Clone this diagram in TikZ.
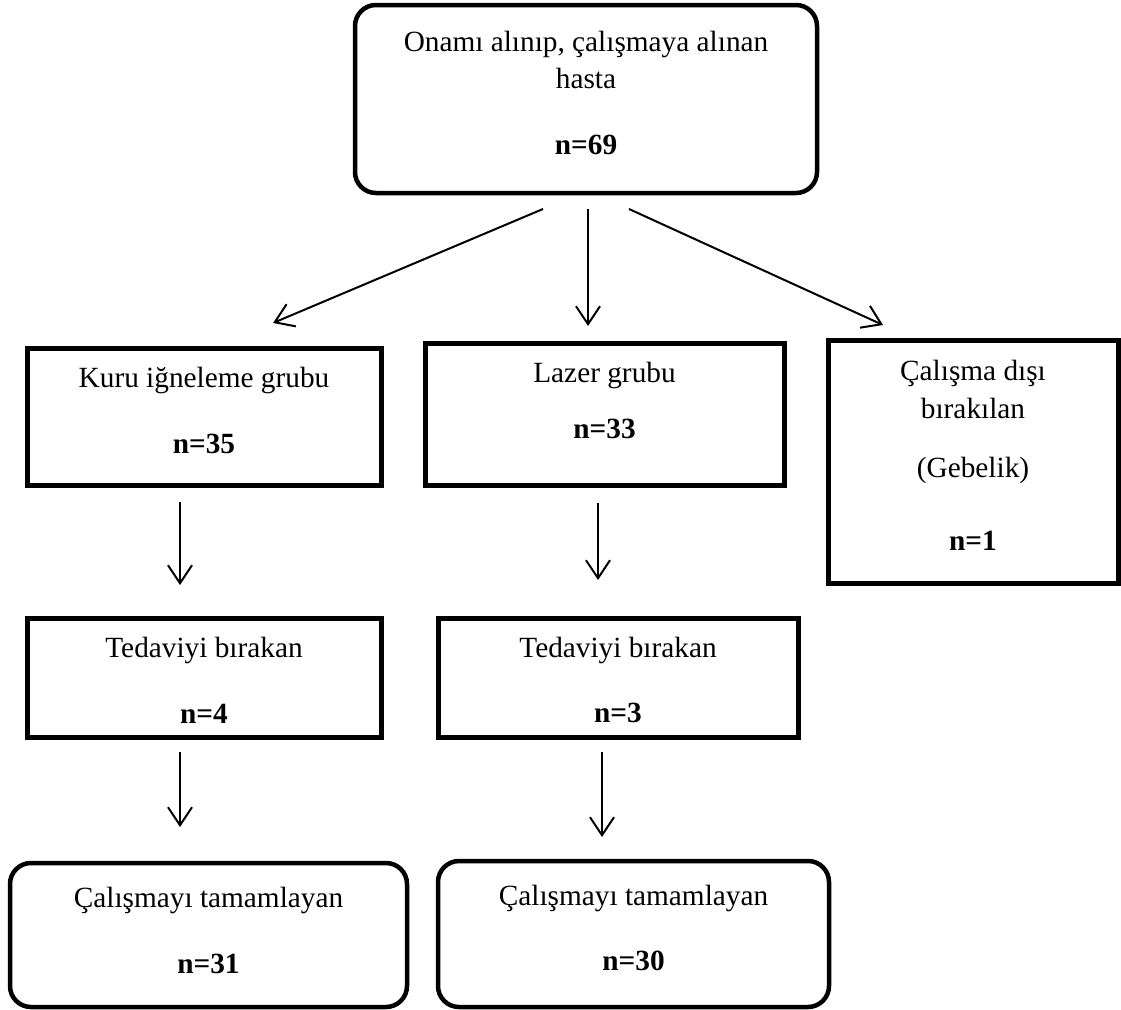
\documentclass[tikz,border=0pt]{standalone}
\usepackage{fontspec}
\setmainfont{Liberation Serif}
\usetikzlibrary{arrows.meta}
\begin{document}
\begin{tikzpicture}[x=1pt,y=-1pt,
  sqbox/.style={draw,line width=5pt,inner sep=0pt},
  rbox/.style={draw,line width=4.5pt,rounded corners=21pt,inner sep=0pt},
  txt/.style={anchor=base,inner sep=0pt,font=\fontsize{29.3}{35}\selectfont},
  arr/.style={line width=2pt,-{Straight Barb[length=18pt,width=24pt]}}]
\useasboundingbox (0,0) rectangle (1121,1009);

% boxes
\node[rbox,minimum width=462pt,minimum height=188pt] (top) at (586,99) {};
\node[sqbox,minimum width=354pt,minimum height=137pt] (kuru) at (204,416.5) {};
\node[sqbox,minimum width=359pt,minimum height=142pt] (lazer) at (604.5,414) {};
\node[sqbox,minimum width=290pt,minimum height=243pt] (disi) at (973,461.5) {};
\node[sqbox,minimum width=354pt,minimum height=119pt] (ted1) at (204,677.5) {};
\node[sqbox,minimum width=360pt,minimum height=119pt] (ted2) at (618,677.5) {};
\node[rbox,minimum width=397pt,minimum height=144pt] (tam1) at (208.5,935) {};
\node[rbox,minimum width=391pt,minimum height=146pt] (tam2) at (633.5,934) {};

% texts
\node[txt] (t1a) at (586,51) {Onamı alınıp, çalışmaya alınan};
\node[txt] (t1b) at (586,88) {hasta};
\node[txt] (t1c) at (586,154) {\textbf{n=69}};
\node[txt] (k1) at (204,387) {Kuru iğneleme grubu};
\node[txt] (k2) at (204,453) {\textbf{n=35}};
\node[txt] (l1) at (604.5,382) {Lazer grubu};
\node[txt] (l2) at (604.5,438) {\textbf{n=33}};
\node[txt] (d1) at (973,380) {Çalışma dışı};
\node[txt] (d2) at (973,418) {bırakılan};
\node[txt] (d3) at (973,477) {(Gebelik)};
\node[txt] (d4) at (973,550) {\textbf{n=1}};
\node[txt] (e1) at (204,657) {Tedaviyi bırakan};
\node[txt] (e2) at (204,723) {\textbf{n=4}};
\node[txt] (f1) at (618,657) {Tedaviyi bırakan};
\node[txt] (f2) at (618,722) {\textbf{n=3}};
\node[txt] (g1) at (208.5,907) {Çalışmayı tamamlayan};
\node[txt] (g2) at (208.5,973) {\textbf{n=31}};
\node[txt] (h1) at (633.5,905) {Çalışmayı tamamlayan};
\node[txt] (h2) at (633.5,970) {\textbf{n=30}};

% arrow end points
\coordinate (a1s) at (543,209); \coordinate (a1e) at (273,323);
\coordinate (a2s) at (588,209); \coordinate (a2e) at (588,326);
\coordinate (a3s) at (629,209); \coordinate (a3e) at (883,325);
\coordinate (a4s) at (180,502); \coordinate (a4e) at (180,585);
\coordinate (a5s) at (598,503); \coordinate (a5e) at (598,580);
\coordinate (a6s) at (180,752); \coordinate (a6e) at (180,827);
\coordinate (a7s) at (602,752); \coordinate (a7e) at (602,837);

\draw[arr] (a1s) -- (a1e);
\draw[arr] (a2s) -- (a2e);
\draw[arr] (a3s) -- (a3e);
\draw[arr] (a4s) -- (a4e);
\draw[arr] (a5s) -- (a5e);
\draw[arr] (a6s) -- (a6e);
\draw[arr] (a7s) -- (a7e);
\end{tikzpicture}
\end{document}
